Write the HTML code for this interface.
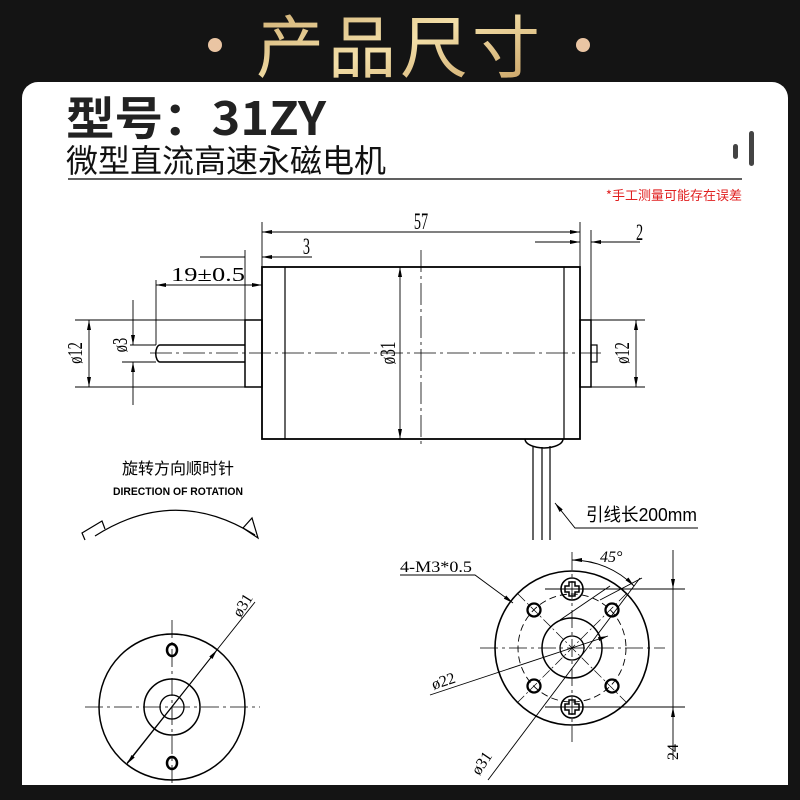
<!DOCTYPE html>
<html><head><meta charset="utf-8"><style>
body{margin:0;width:800px;height:800px;background:#141414;overflow:hidden;font-family:"Liberation Sans","Noto Sans CJK SC",sans-serif}
</style></head><body>
<svg width="800" height="800" viewBox="0 0 800 800" xmlns="http://www.w3.org/2000/svg" style="position:absolute;left:0;top:0">
<defs>
<linearGradient id="g" x1="0" y1="0" x2="1" y2="1">
<stop offset="0" stop-color="#c9a66a"/><stop offset="0.5" stop-color="#f3dfa8"/><stop offset="1" stop-color="#c49a5c"/>
</linearGradient>
<marker id="a" viewBox="0 0 10 4" refX="10" refY="2" markerWidth="10" markerHeight="4" orient="auto-start-reverse" markerUnits="userSpaceOnUse"><path d="M0,0 L10,2 L0,4z" fill="#000"/></marker>
</defs>
<rect width="800" height="800" fill="#141414"/>
<circle cx="215" cy="45" r="7" fill="#eac5a3"/><circle cx="583" cy="45" r="7" fill="#eac5a3"/>
<text x="400" y="72" text-anchor="middle" font-size="68" fill="url(#g)" font-family="Noto Sans CJK SC,sans-serif" letter-spacing="4">产品尺寸</text>
<rect x="22" y="82" width="766" height="720" rx="16" fill="#fff"/>
<rect x="0" y="785" width="800" height="15" fill="#141414"/>
<text x="66" y="135" font-size="46" font-weight="bold" fill="#222" font-family="Noto Sans CJK SC,sans-serif" textLength="260" lengthAdjust="spacingAndGlyphs">型号：31ZY</text>
<text x="66" y="172" font-size="32" fill="#111" font-family="Noto Sans CJK SC,sans-serif">微型直流高速永磁电机</text>
<rect x="733" y="144" width="5" height="15" rx="2.5" fill="#444"/><rect x="749" y="131" width="5" height="35" rx="2.5" fill="#444"/>
<line x1="68" y1="179" x2="742" y2="179" stroke="#000" stroke-width="1.2"/>
<text x="742" y="200" text-anchor="end" font-size="13" fill="#e02020" font-family="Noto Sans CJK SC,sans-serif">*手工测量可能存在误差</text>
<g stroke="#000" fill="none" stroke-width="1.2">
<rect x="262" y="267" width="318" height="172" stroke-width="1.8"/>
<line x1="285" y1="267" x2="285" y2="439"/><line x1="564" y1="267" x2="564" y2="439"/>
<rect x="245" y="320" width="17" height="67" stroke-width="1.5"/>
<path d="M245,345 H160 a4,8 0 0 0 0,17 H245" stroke-width="1.5"/>
<rect x="580" y="320" width="11" height="67" stroke-width="1.5"/>
<rect x="591" y="345" width="6" height="17"/>
<path d="M525,439 a19,9 0 0 0 38,0" stroke-width="1.5"/>
<line x1="533" y1="446" x2="533" y2="540"/><line x1="542" y1="447" x2="542" y2="540"/><line x1="550" y1="446" x2="550" y2="540"/>
<line x1="150" y1="353" x2="605" y2="353" stroke-width="0.8" stroke-dasharray="22,4,3,4"/>
<line x1="421" y1="250" x2="421" y2="445" stroke-width="0.8" stroke-dasharray="22,4,3,4"/>
<line x1="400" y1="267" x2="400" y2="439" stroke-width="0.9" marker-start="url(#a)" marker-end="url(#a)"/>
<line x1="262" y1="222" x2="262" y2="267" stroke-width="0.9"/><line x1="580" y1="222" x2="580" y2="267" stroke-width="0.9"/>
<line x1="262" y1="232" x2="580" y2="232" stroke-width="0.9" marker-start="url(#a)" marker-end="url(#a)"/>
<line x1="591" y1="230" x2="591" y2="320" stroke-width="0.9"/>
<line x1="535" y1="242" x2="580" y2="242" stroke-width="0.9" marker-end="url(#a)"/>
<line x1="640" y1="242" x2="591" y2="242" stroke-width="0.9" marker-end="url(#a)"/>
<line x1="245" y1="250" x2="245" y2="320" stroke-width="0.9"/>
<line x1="200" y1="257" x2="245" y2="257" stroke-width="0.9"/>
<line x1="312" y1="257" x2="262" y2="257" stroke-width="0.9" marker-end="url(#a)"/>
<line x1="156" y1="280" x2="156" y2="345" stroke-width="0.9"/>
<line x1="156" y1="285" x2="262" y2="285" stroke-width="0.9" marker-start="url(#a)" marker-end="url(#a)"/>
<line x1="75" y1="320" x2="245" y2="320" stroke-width="0.9"/><line x1="75" y1="387" x2="245" y2="387" stroke-width="0.9"/>
<line x1="89" y1="320" x2="89" y2="387" stroke-width="0.9" marker-start="url(#a)" marker-end="url(#a)"/>
<line x1="130" y1="345" x2="156" y2="345" stroke-width="0.9"/><line x1="122" y1="362" x2="156" y2="362" stroke-width="0.9"/>
<line x1="133" y1="300" x2="133" y2="345" stroke-width="0.9" marker-end="url(#a)"/>
<line x1="133" y1="405" x2="133" y2="362" stroke-width="0.9" marker-end="url(#a)"/>
<line x1="591" y1="320" x2="645" y2="320" stroke-width="0.9"/><line x1="591" y1="387" x2="645" y2="387" stroke-width="0.9"/>
<line x1="636" y1="320" x2="636" y2="387" stroke-width="0.9" marker-start="url(#a)" marker-end="url(#a)"/>
<path d="M698,528 H575 L555,503" stroke-width="0.9" marker-end="url(#a)"/>
<path d="M95,536 Q175,485 255,535" stroke-width="1.2"/>
<path d="M85,540 L82,533 L102,521 L105,529" stroke-width="1.2"/>
<path d="M258,538 L243,528 L252,518z" stroke-width="1.2"/>
<circle cx="172" cy="707" r="73" stroke-width="1.5"/>
<circle cx="172" cy="707" r="28" stroke-width="1.5"/>
<circle cx="172" cy="707" r="12" stroke-width="1.3"/>
<ellipse cx="172" cy="650" rx="5" ry="6" stroke-width="2.5"/><ellipse cx="172" cy="763" rx="5" ry="6" stroke-width="2.5"/>
<line x1="85" y1="707" x2="260" y2="707" stroke-width="0.8" stroke-dasharray="18,4,3,4"/>
<line x1="172" y1="620" x2="172" y2="785" stroke-width="0.8" stroke-dasharray="18,4,3,4"/>
<line x1="127" y1="763" x2="255" y2="602" stroke-width="0.9"/>
<line x1="172" y1="707" x2="217" y2="650" stroke-width="0.9" marker-end="url(#a)"/>
<line x1="172" y1="707" x2="127" y2="764" stroke-width="0.9" marker-end="url(#a)"/>
<circle cx="572" cy="648" r="77" stroke-width="1.6"/>
<circle cx="572" cy="648" r="54" stroke-width="0.9" stroke-dasharray="7,4"/>
<circle cx="572" cy="648" r="30" stroke-width="1.5"/>
<circle cx="572" cy="648" r="12" stroke-width="1.3"/>
<line x1="480" y1="648" x2="665" y2="648" stroke-width="0.8" stroke-dasharray="18,4,3,4"/>
<line x1="572" y1="552" x2="572" y2="742" stroke-width="0.8" stroke-dasharray="18,4,3,4"/>
<line x1="518" y1="594" x2="626" y2="702" stroke-width="0.7" stroke-dasharray="10,3,2,3"/>
<line x1="626" y1="594" x2="518" y2="702" stroke-width="0.7" stroke-dasharray="10,3,2,3"/>
<circle cx="534" cy="610" r="6.5" stroke-width="2.3"/><circle cx="612" cy="610" r="6.5" stroke-width="2.3"/>
<circle cx="534" cy="686" r="6.5" stroke-width="2.3"/><circle cx="612" cy="686" r="6.5" stroke-width="2.3"/>
<circle cx="572" cy="589" r="11" stroke-width="1.6"/><circle cx="572" cy="707" r="11" stroke-width="1.6"/>
<path d="M569,582h6v4h4v6h-4v4h-6v-4h-4v-6h4z" stroke-width="1.5"/>
<path d="M569,700h6v4h4v6h-4v4h-6v-4h-4v-6h4z" stroke-width="1.5"/>
<line x1="545" y1="589" x2="685" y2="589" stroke-width="0.9"/><line x1="545" y1="707" x2="685" y2="707" stroke-width="0.9"/>
<line x1="673" y1="550" x2="673" y2="589" stroke-width="0.9" marker-end="url(#a)"/>
<line x1="673" y1="760" x2="673" y2="707" stroke-width="0.9" marker-end="url(#a)"/>
<line x1="673" y1="589" x2="673" y2="707" stroke-width="0.9"/>
<path d="M400,575 H475 L513,603" stroke-width="0.9" marker-end="url(#a)"/>
<path d="M430,695 L608,636" stroke-width="0.9" marker-end="url(#a)"/>
<path d="M488,780 L640,578" stroke-width="0.9"/>
<line x1="560" y1="620" x2="610" y2="586" stroke-width="0.9"/>
<path d="M572,560 A88,88 0 0 1 634,586" stroke-width="0.9" marker-start="url(#a)" marker-end="url(#a)"/>
<line x1="600" y1="600" x2="642" y2="578" stroke-width="0.9"/>
</g>
<g font-family="Liberation Serif,serif" fill="#000">
<text transform="translate(421,229) scale(0.75,1.2)" text-anchor="middle" font-size="19">57</text>
<text transform="translate(636,240) scale(0.75,1.2)" font-size="19">2</text>
<text transform="translate(310,254) scale(0.75,1.2)" font-size="19" text-anchor="end">3</text>
<text x="208" y="281" font-size="20" text-anchor="middle" textLength="74" lengthAdjust="spacingAndGlyphs">19±0.5</text>
<text transform="translate(82,353) rotate(-90) scale(0.8,1.15)" text-anchor="middle" font-size="18">ø12</text>
<text transform="translate(127,345) rotate(-90) scale(0.8,1.15)" text-anchor="middle" font-size="18">ø3</text>
<text transform="translate(395,353) rotate(-90) scale(0.8,1.15)" text-anchor="middle" font-size="19">ø31</text>
<text transform="translate(629,353) rotate(-90) scale(0.8,1.15)" text-anchor="middle" font-size="18">ø12</text>
<text transform="translate(247,608) rotate(-58)" text-anchor="middle" font-size="16">ø31</text>
<text x="400" y="572" font-size="16" textLength="72" lengthAdjust="spacingAndGlyphs">4-M3*0.5</text>
<text transform="translate(445,686) rotate(-18)" text-anchor="middle" font-size="16">ø22</text>
<text transform="translate(486,766) rotate(-56)" text-anchor="middle" font-size="16">ø31</text>
<text x="600" y="562" font-size="16" font-style="italic">45°</text>
<text transform="translate(678,752) rotate(-90)" text-anchor="middle" font-size="16">24</text>
</g>
<text x="586" y="521" font-size="18" fill="#000" font-family="Liberation Sans,Noto Sans CJK SC,sans-serif" textLength="111" lengthAdjust="spacingAndGlyphs">引线长200mm</text>
<text x="178" y="474" text-anchor="middle" font-size="16" fill="#000" font-family="Noto Sans CJK SC,sans-serif">旋转方向顺时针</text>
<text x="178" y="495" text-anchor="middle" font-size="11" font-weight="bold" fill="#000" textLength="130" lengthAdjust="spacingAndGlyphs">DIRECTION OF ROTATION</text>
</svg>
</body></html>
